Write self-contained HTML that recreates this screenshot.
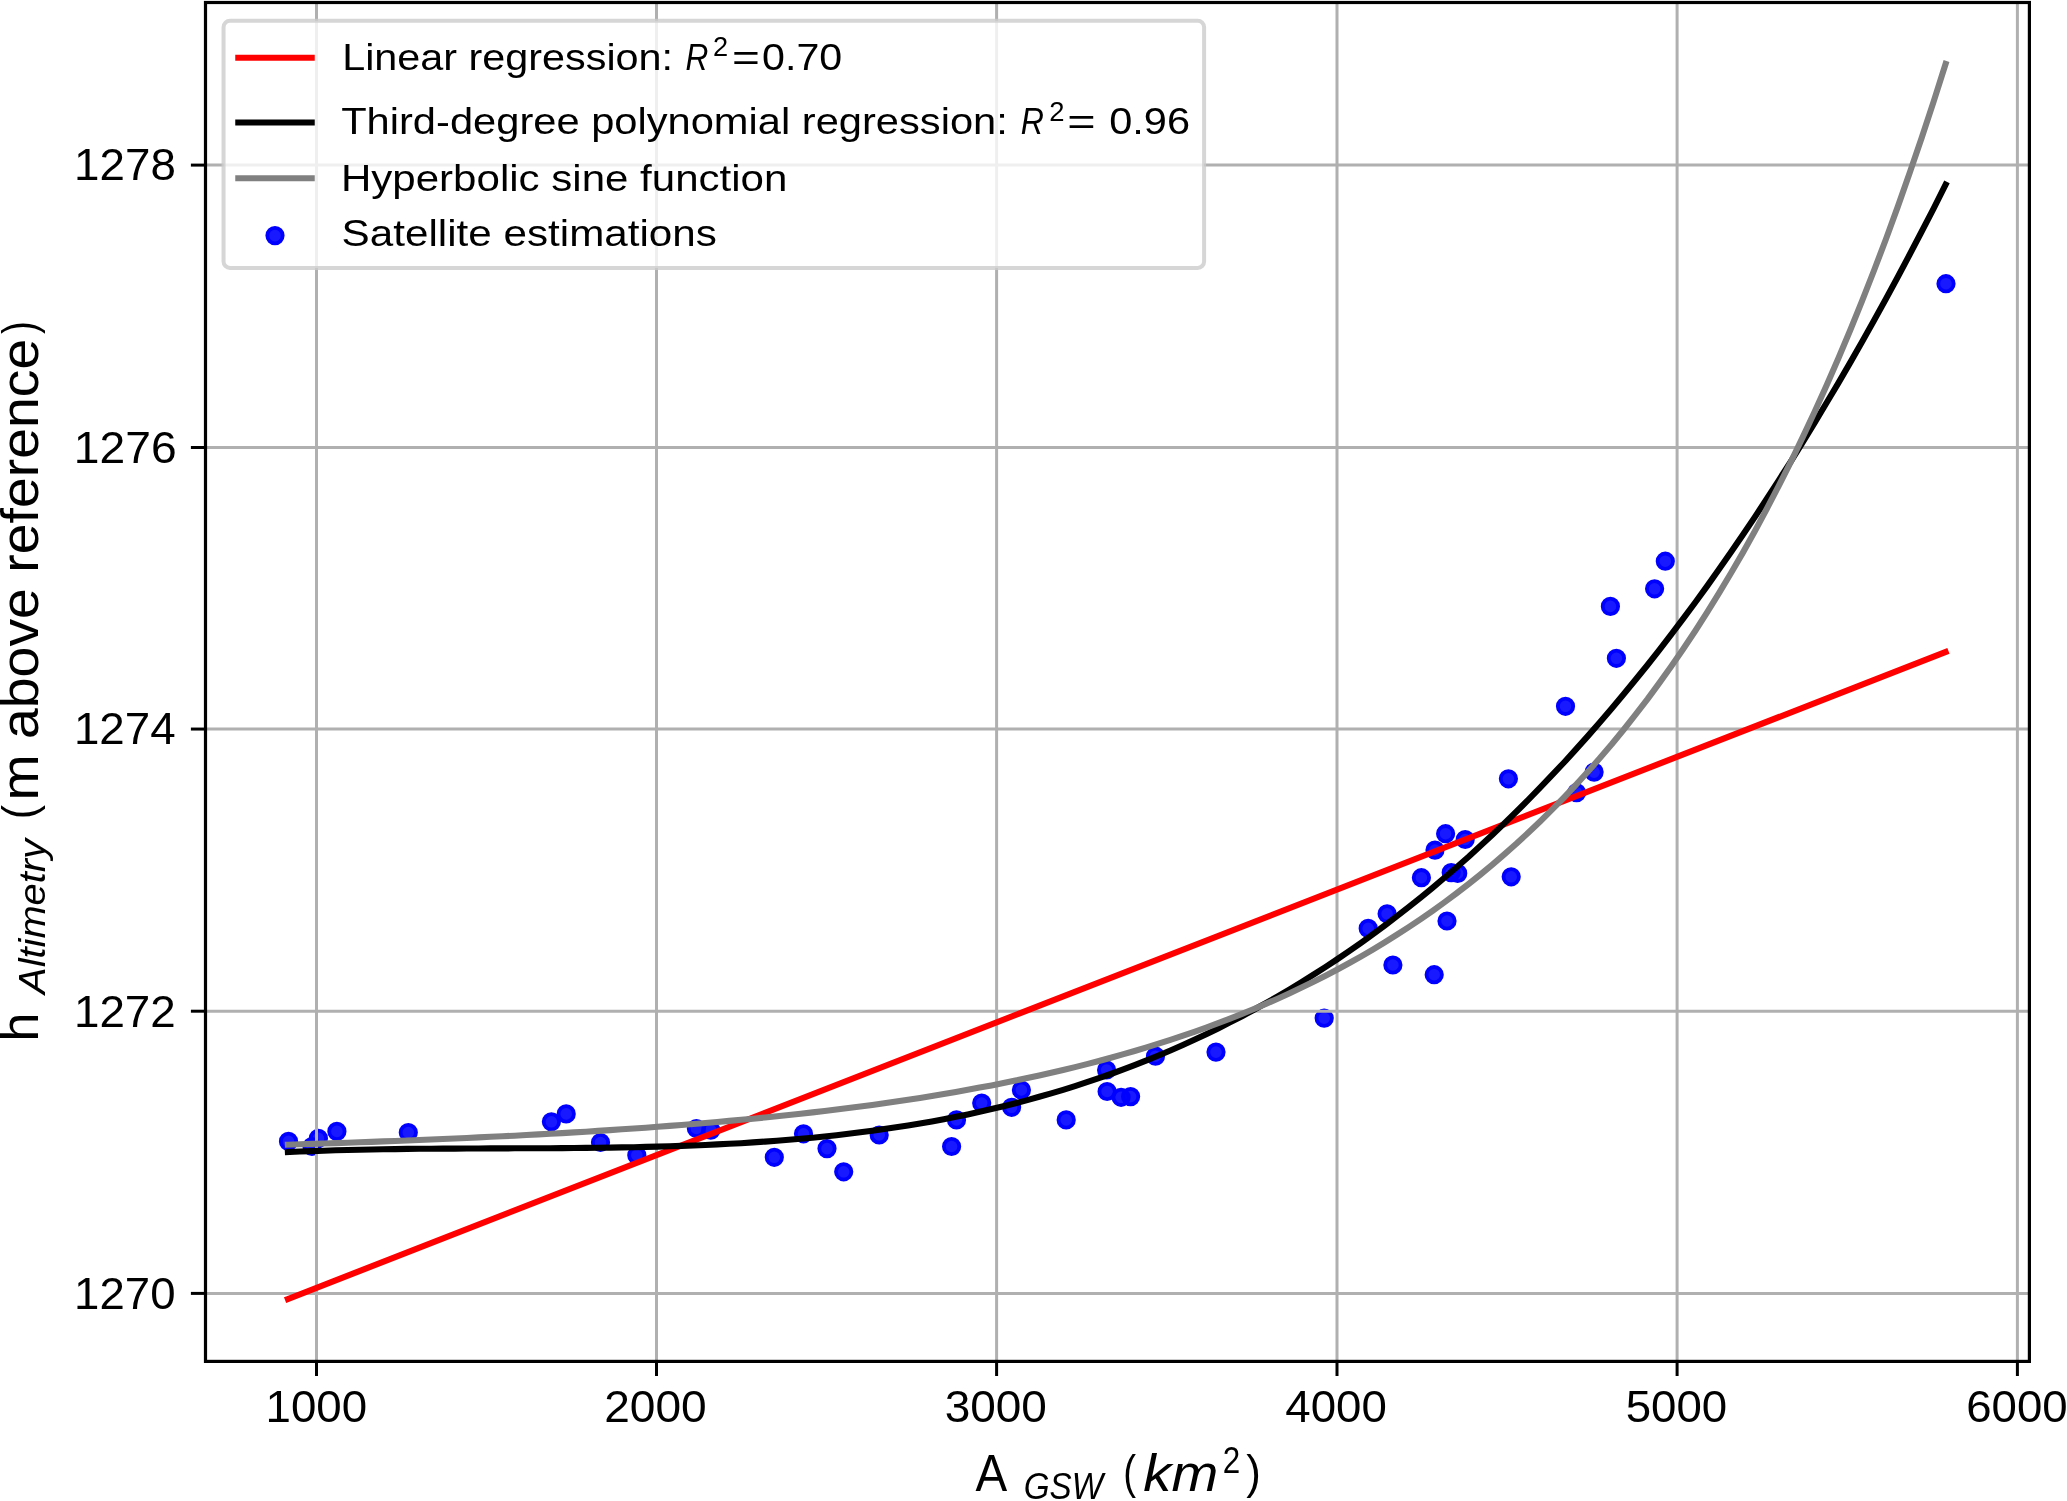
<!DOCTYPE html>
<html lang="en">
<head>
<meta charset="utf-8">
<title>Lake level vs. surface area regressions</title>
<style>
html,body{margin:0;padding:0;background:#ffffff;}
body{width:2067px;height:1501px;}
svg{display:block;will-change:transform;}
svg text{font-family:"Liberation Sans",sans-serif;fill:#000000;}
</style>
</head>
<body>
<svg width="2067" height="1501" viewBox="0 0 2067 1501">
<rect x="0" y="0" width="2067" height="1501" fill="#ffffff"/>
<defs><clipPath id="ax"><rect x="205.5" y="2.5" width="1823.9" height="1358.9"/></clipPath></defs>
<g id="scatter" fill="#0000ff" fill-opacity="0.9" stroke="#0000ff" stroke-width="3.8">
<circle cx="288.5" cy="1141.4" r="7.7"/><circle cx="312.0" cy="1146.5" r="7.7"/><circle cx="318.4" cy="1138.4" r="7.7"/><circle cx="336.9" cy="1131.4" r="7.7"/><circle cx="408.3" cy="1132.5" r="7.7"/><circle cx="551.4" cy="1121.8" r="7.7"/><circle cx="566.2" cy="1113.9" r="7.7"/><circle cx="600.5" cy="1142.5" r="7.7"/><circle cx="636.8" cy="1155.2" r="7.7"/><circle cx="696.4" cy="1128.5" r="7.7"/><circle cx="710.8" cy="1130.2" r="7.7"/><circle cx="774.3" cy="1157.3" r="7.7"/><circle cx="803.5" cy="1133.8" r="7.7"/><circle cx="827.0" cy="1148.6" r="7.7"/><circle cx="843.7" cy="1171.8" r="7.7"/><circle cx="879.2" cy="1135.0" r="7.7"/><circle cx="951.6" cy="1146.5" r="7.7"/><circle cx="956.5" cy="1119.9" r="7.7"/><circle cx="981.7" cy="1103.0" r="7.7"/><circle cx="1011.6" cy="1107.3" r="7.7"/><circle cx="1021.4" cy="1090.0" r="7.7"/><circle cx="1066.2" cy="1119.9" r="7.7"/><circle cx="1106.6" cy="1070.0" r="7.7"/><circle cx="1107.1" cy="1091.5" r="7.7"/><circle cx="1121.1" cy="1097.3" r="7.7"/><circle cx="1130.6" cy="1096.6" r="7.7"/><circle cx="1155.5" cy="1056.2" r="7.7"/><circle cx="1216.0" cy="1052.1" r="7.7"/><circle cx="1324.2" cy="1018.2" r="7.7"/><circle cx="1368.2" cy="928.4" r="7.7"/><circle cx="1387.1" cy="913.8" r="7.7"/><circle cx="1392.9" cy="965.0" r="7.7"/><circle cx="1421.4" cy="877.7" r="7.7"/><circle cx="1434.2" cy="974.7" r="7.7"/><circle cx="1435.0" cy="850.1" r="7.7"/><circle cx="1445.6" cy="833.7" r="7.7"/><circle cx="1447.0" cy="921.0" r="7.7"/><circle cx="1451.2" cy="872.6" r="7.7"/><circle cx="1457.7" cy="873.4" r="7.7"/><circle cx="1465.2" cy="839.5" r="7.7"/><circle cx="1511.2" cy="876.8" r="7.7"/><circle cx="1508.4" cy="778.8" r="7.7"/><circle cx="1576.6" cy="792.7" r="7.7"/><circle cx="1594.1" cy="772.1" r="7.7"/><circle cx="1565.5" cy="706.3" r="7.7"/><circle cx="1616.4" cy="658.3" r="7.7"/><circle cx="1610.4" cy="606.4" r="7.7"/><circle cx="1654.6" cy="588.8" r="7.7"/><circle cx="1665.3" cy="561.2" r="7.7"/><circle cx="1946.0" cy="283.7" r="7.7"/>
</g>
<g id="grid" stroke="#b0b0b0" stroke-width="3" clip-path="url(#ax)">
<line x1="316.50" y1="2.50" x2="316.50" y2="1361.40"/><line x1="656.50" y1="2.50" x2="656.50" y2="1361.40"/><line x1="996.60" y1="2.50" x2="996.60" y2="1361.40"/><line x1="1337.00" y1="2.50" x2="1337.00" y2="1361.40"/><line x1="1677.10" y1="2.50" x2="1677.10" y2="1361.40"/><line x1="2017.40" y1="2.50" x2="2017.40" y2="1361.40"/><line x1="205.50" y1="1293.40" x2="2029.40" y2="1293.40"/><line x1="205.50" y1="1011.20" x2="2029.40" y2="1011.20"/><line x1="205.50" y1="729.05" x2="2029.40" y2="729.05"/><line x1="205.50" y1="447.50" x2="2029.40" y2="447.50"/><line x1="205.50" y1="165.10" x2="2029.40" y2="165.10"/>
</g>
<g id="curves" fill="none" stroke-width="6.1" stroke-linecap="square" stroke-linejoin="round" clip-path="url(#ax)">
<path stroke="#ff0000" d="M287.9 1299.0 L1945.6 652.0"/>
<path stroke="#000000" d="M287.9 1152.1 L299.8 1151.5 L311.8 1151.1 L323.7 1150.7 L335.6 1150.3 L347.5 1150.0 L359.5 1149.7 L371.4 1149.5 L383.3 1149.3 L395.2 1149.1 L407.2 1148.9 L419.1 1148.8 L431.0 1148.7 L442.9 1148.6 L454.9 1148.6 L466.8 1148.5 L478.7 1148.5 L490.6 1148.4 L502.6 1148.4 L514.5 1148.3 L526.4 1148.3 L538.3 1148.3 L550.3 1148.2 L562.2 1148.1 L574.1 1148.0 L586.0 1147.9 L598.0 1147.8 L609.9 1147.6 L621.8 1147.4 L633.8 1147.2 L645.7 1146.9 L657.6 1146.6 L669.5 1146.3 L681.5 1145.9 L693.4 1145.5 L705.3 1145.0 L717.2 1144.4 L729.2 1143.8 L741.1 1143.2 L753.0 1142.4 L764.9 1141.6 L776.9 1140.7 L788.8 1139.8 L800.7 1138.8 L812.6 1137.7 L824.6 1136.5 L836.5 1135.2 L848.4 1133.8 L860.3 1132.3 L872.3 1130.8 L884.2 1129.1 L896.1 1127.3 L908.0 1125.5 L920.0 1123.5 L931.9 1121.4 L943.8 1119.2 L955.8 1116.8 L967.7 1114.4 L979.6 1111.8 L991.5 1109.0 L1003.5 1106.2 L1015.4 1103.2 L1027.3 1100.1 L1039.2 1096.8 L1051.2 1093.4 L1063.1 1089.8 L1075.0 1086.1 L1086.9 1082.2 L1098.9 1078.2 L1110.8 1074.0 L1122.7 1069.6 L1134.6 1065.1 L1146.6 1060.4 L1158.5 1055.5 L1170.4 1050.5 L1182.3 1045.2 L1194.3 1039.8 L1206.2 1034.2 L1218.1 1028.4 L1230.0 1022.4 L1242.0 1016.2 L1253.9 1009.8 L1265.8 1003.2 L1277.7 996.4 L1289.7 989.4 L1301.6 982.2 L1313.5 974.7 L1325.5 967.0 L1337.4 959.1 L1349.3 951.0 L1361.2 942.7 L1373.2 934.1 L1385.1 925.3 L1397.0 916.2 L1408.9 906.9 L1420.9 897.4 L1432.8 887.6 L1444.7 877.5 L1456.6 867.2 L1468.6 856.7 L1480.5 845.8 L1492.4 834.8 L1504.3 823.4 L1516.3 811.8 L1528.2 799.9 L1540.1 787.7 L1552.0 775.2 L1564.0 762.5 L1575.9 749.4 L1587.8 736.1 L1599.7 722.5 L1611.7 708.5 L1623.6 694.3 L1635.5 679.8 L1647.5 665.0 L1659.4 649.8 L1671.3 634.3 L1683.2 618.6 L1695.2 602.5 L1707.1 586.1 L1719.0 569.3 L1730.9 552.2 L1742.9 534.8 L1754.8 517.1 L1766.7 499.0 L1778.6 480.6 L1790.6 461.8 L1802.5 442.7 L1814.4 423.2 L1826.3 403.3 L1838.3 383.1 L1850.2 362.6 L1862.1 341.7 L1874.0 320.4 L1886.0 298.7 L1897.9 276.7 L1909.8 254.3 L1921.7 231.5 L1933.7 208.3 L1945.6 184.7"/>
<path stroke="#808080" d="M287.9 1144.7 L299.8 1144.3 L311.8 1143.9 L323.7 1143.5 L335.6 1143.1 L347.5 1142.7 L359.5 1142.3 L371.4 1141.9 L383.3 1141.4 L395.2 1141.0 L407.2 1140.5 L419.1 1140.0 L431.0 1139.5 L442.9 1139.0 L454.9 1138.5 L466.8 1138.0 L478.7 1137.4 L490.6 1136.8 L502.6 1136.3 L514.5 1135.7 L526.4 1135.0 L538.3 1134.4 L550.3 1133.8 L562.2 1133.1 L574.1 1132.4 L586.0 1131.7 L598.0 1130.9 L609.9 1130.1 L621.8 1129.3 L633.8 1128.5 L645.7 1127.7 L657.6 1126.8 L669.5 1125.9 L681.5 1125.0 L693.4 1124.0 L705.3 1123.0 L717.2 1122.0 L729.2 1120.9 L741.1 1119.8 L753.0 1118.7 L764.9 1117.5 L776.9 1116.3 L788.8 1115.0 L800.7 1113.7 L812.6 1112.4 L824.6 1111.0 L836.5 1109.5 L848.4 1108.0 L860.3 1106.5 L872.3 1104.9 L884.2 1103.2 L896.1 1101.5 L908.0 1099.7 L920.0 1097.9 L931.9 1096.0 L943.8 1094.0 L955.8 1091.9 L967.7 1089.8 L979.6 1087.6 L991.5 1085.4 L1003.5 1083.0 L1015.4 1080.6 L1027.3 1078.1 L1039.2 1075.5 L1051.2 1072.8 L1063.1 1070.0 L1075.0 1067.1 L1086.9 1064.1 L1098.9 1061.0 L1110.8 1057.8 L1122.7 1054.4 L1134.6 1051.0 L1146.6 1047.4 L1158.5 1043.7 L1170.4 1039.9 L1182.3 1035.9 L1194.3 1031.8 L1206.2 1027.6 L1218.1 1023.2 L1230.0 1018.6 L1242.0 1013.9 L1253.9 1009.0 L1265.8 1003.9 L1277.7 998.7 L1289.7 993.2 L1301.6 987.6 L1313.5 981.8 L1325.5 975.7 L1337.4 969.5 L1349.3 963.0 L1361.2 956.3 L1373.2 949.3 L1385.1 942.1 L1397.0 934.7 L1408.9 927.0 L1420.9 919.0 L1432.8 910.7 L1444.7 902.1 L1456.6 893.2 L1468.6 884.0 L1480.5 874.5 L1492.4 864.6 L1504.3 854.4 L1516.3 843.8 L1528.2 832.8 L1540.1 821.5 L1552.0 809.7 L1564.0 797.5 L1575.9 784.9 L1587.8 771.8 L1599.7 758.3 L1611.7 744.3 L1623.6 729.7 L1635.5 714.7 L1647.5 699.1 L1659.4 682.9 L1671.3 666.2 L1683.2 648.9 L1695.2 631.0 L1707.1 612.4 L1719.0 593.2 L1730.9 573.2 L1742.9 552.6 L1754.8 531.2 L1766.7 509.0 L1778.6 486.1 L1790.6 462.3 L1802.5 437.7 L1814.4 412.3 L1826.3 385.9 L1838.3 358.5 L1850.2 330.2 L1862.1 300.8 L1874.0 270.5 L1886.0 239.0 L1897.9 206.4 L1909.8 172.6 L1921.7 137.7 L1933.7 101.4 L1945.6 63.9"/>
</g>
<g id="axes" stroke="#000000" stroke-width="3" fill="none">
<rect x="205.5" y="2.5" width="1823.9" height="1358.9" stroke-width="3.2" stroke-linejoin="miter"/>
<line x1="316.50" y1="1361.40" x2="316.50" y2="1376.00"/><line x1="656.50" y1="1361.40" x2="656.50" y2="1376.00"/><line x1="996.60" y1="1361.40" x2="996.60" y2="1376.00"/><line x1="1337.00" y1="1361.40" x2="1337.00" y2="1376.00"/><line x1="1677.10" y1="1361.40" x2="1677.10" y2="1376.00"/><line x1="2017.40" y1="1361.40" x2="2017.40" y2="1376.00"/><line x1="190.90" y1="1293.40" x2="205.50" y2="1293.40"/><line x1="190.90" y1="1011.20" x2="205.50" y2="1011.20"/><line x1="190.90" y1="729.05" x2="205.50" y2="729.05"/><line x1="190.90" y1="447.50" x2="205.50" y2="447.50"/><line x1="190.90" y1="165.10" x2="205.50" y2="165.10"/>
</g>
<g id="labels">
<text x="265.52" y="1421.50" font-size="43.5" textLength="101.56" lengthAdjust="spacingAndGlyphs">1000</text>
<text x="604.18" y="1421.50" font-size="43.5" textLength="102.52" lengthAdjust="spacingAndGlyphs">2000</text>
<text x="944.65" y="1421.50" font-size="43.5" textLength="102.25" lengthAdjust="spacingAndGlyphs">3000</text>
<text x="1285.25" y="1421.50" font-size="43.5" textLength="101.53" lengthAdjust="spacingAndGlyphs">4000</text>
<text x="1625.67" y="1421.50" font-size="43.5" textLength="101.51" lengthAdjust="spacingAndGlyphs">5000</text>
<text x="1966.19" y="1421.50" font-size="43.5" textLength="101.39" lengthAdjust="spacingAndGlyphs">6000</text>
<text x="74.12" y="180.40" font-size="43.5" textLength="101.77" lengthAdjust="spacingAndGlyphs">1278</text>
<text x="73.88" y="462.80" font-size="43.5" textLength="102.85" lengthAdjust="spacingAndGlyphs">1276</text>
<text x="73.92" y="744.35" font-size="43.5" textLength="101.72" lengthAdjust="spacingAndGlyphs">1274</text>
<text x="73.91" y="1026.50" font-size="43.5" textLength="101.89" lengthAdjust="spacingAndGlyphs">1272</text>
<text x="74.13" y="1308.70" font-size="43.5" textLength="101.35" lengthAdjust="spacingAndGlyphs">1270</text>
<text><tspan x="975.61" y="1491.00" font-size="51.4" textLength="31.69" lengthAdjust="spacingAndGlyphs">A</tspan><tspan font-size="10"> </tspan><tspan x="1023.66" y="1499.00" font-size="36.2" font-style="italic" textLength="79.33" lengthAdjust="spacingAndGlyphs">GSW</tspan><tspan font-size="10"> </tspan><tspan x="1123.32" y="1487.90" font-size="46.8" textLength="12.81" lengthAdjust="spacingAndGlyphs">(</tspan><tspan x="1143.37" y="1491.00" font-size="51.4" font-style="italic" textLength="74.94" lengthAdjust="spacingAndGlyphs">km</tspan><tspan x="1222.72" y="1473.00" font-size="36.2" textLength="17.46" lengthAdjust="spacingAndGlyphs">2</tspan><tspan x="1246.14" y="1487.90" font-size="46.8" textLength="14.57" lengthAdjust="spacingAndGlyphs">)</tspan></text>
<g transform="translate(38.0 1042.2) rotate(-90)">
<text><tspan x="0.60" y="0.00" font-size="52.4" textLength="28.87" lengthAdjust="spacingAndGlyphs">h</tspan><tspan font-size="10"> </tspan><tspan x="48.27" y="7.30" font-size="36.2" font-style="italic" textLength="154.93" lengthAdjust="spacingAndGlyphs">Altimetry</tspan><tspan font-size="10"> </tspan><tspan x="222.84" y="-3.10" font-size="46.8" textLength="14.32" lengthAdjust="spacingAndGlyphs">(</tspan><tspan x="241.62" y="0.00" font-size="52.4" textLength="461.94" lengthAdjust="spacingAndGlyphs">m above reference</tspan><tspan x="708.27" y="-3.10" font-size="46.8" textLength="12.93" lengthAdjust="spacingAndGlyphs">)</tspan></text>
</g>
</g>
<g id="legend">
<rect x="223.55" y="20.65" width="980.55" height="247.25" rx="6.5" ry="6.5" fill="#ffffff" fill-opacity="0.8" stroke="#cccccc" stroke-opacity="0.8" stroke-width="4"/>
<line x1="238.3" y1="57.7" x2="311.7" y2="57.7" stroke="#ff0000" stroke-width="6.1" stroke-linecap="square"/>
<line x1="238.3" y1="122.5" x2="311.7" y2="122.5" stroke="#000000" stroke-width="6.1" stroke-linecap="square"/>
<line x1="238.3" y1="178.3" x2="311.7" y2="178.3" stroke="#808080" stroke-width="6.1" stroke-linecap="square"/>
<circle cx="275.0" cy="235.6" r="7.7" fill="#0000ff" fill-opacity="0.9" stroke="#0000ff" stroke-width="3.8"/>
<text><tspan x="342.21" y="69.80" font-size="37.5" textLength="330.86" lengthAdjust="spacingAndGlyphs">Linear regression:</tspan><tspan font-size="10"> </tspan><tspan x="685.43" y="69.80" font-size="37.5" font-style="italic" textLength="22.85" lengthAdjust="spacingAndGlyphs">R</tspan><tspan x="713.03" y="56.00" font-size="26.9" textLength="15.14" lengthAdjust="spacingAndGlyphs">2</tspan><tspan x="732.07" y="69.80" font-size="37.5" textLength="27.88" lengthAdjust="spacingAndGlyphs">=</tspan><tspan x="762.09" y="69.80" font-size="37.5" textLength="80.12" lengthAdjust="spacingAndGlyphs">0.70</tspan></text>
<text><tspan x="341.16" y="134.20" font-size="37.5" textLength="666.64" lengthAdjust="spacingAndGlyphs">Third-degree polynomial regression:</tspan><tspan font-size="10"> </tspan><tspan x="1020.81" y="134.20" font-size="37.5" font-style="italic" textLength="23.17" lengthAdjust="spacingAndGlyphs">R</tspan><tspan x="1049.32" y="120.60" font-size="26.9" textLength="15.26" lengthAdjust="spacingAndGlyphs">2</tspan><tspan x="1067.23" y="134.20" font-size="37.5" textLength="28.37" lengthAdjust="spacingAndGlyphs">=</tspan><tspan font-size="10"> </tspan><tspan x="1109.28" y="134.20" font-size="37.5" textLength="80.74" lengthAdjust="spacingAndGlyphs">0.96</tspan></text>
<text x="340.95" y="191.10" font-size="37.5" textLength="446.48" lengthAdjust="spacingAndGlyphs">Hyperbolic sine function</text>
<text x="341.58" y="245.90" font-size="37.5" textLength="375.34" lengthAdjust="spacingAndGlyphs">Satellite estimations</text>
</g>
</svg>
</body>
</html>
